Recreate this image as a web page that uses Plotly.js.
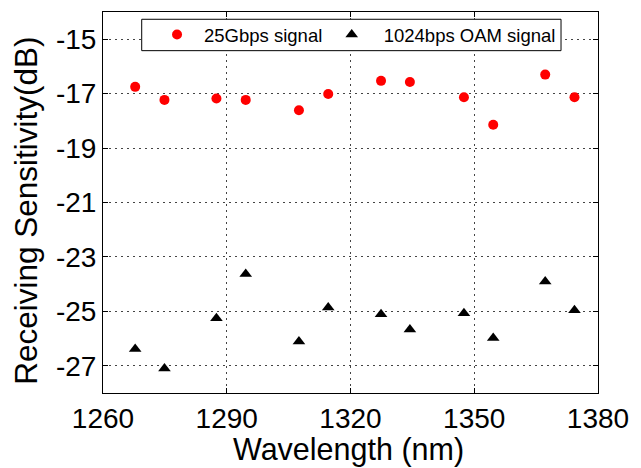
<!DOCTYPE html>
<html>
<head>
<meta charset="utf-8">
<script src="https://cdn.plot.ly/plotly-3.0.1.min.js"></script>
<style>html,body{margin:0;padding:0;background:#fff;}#chart{width:641px;height:468px;}</style>
</head>
<body>
<div id="chart"></div>
<script>
var wavelength = [1267.8, 1274.9, 1287.5, 1294.6, 1307.5, 1314.6, 1327.4, 1334.4, 1347.5, 1354.6, 1367.2, 1374.3];
var sens25G = [-16.75, -17.23, -17.18, -17.23, -17.61, -17.01, -16.53, -16.57, -17.13, -18.14, -16.30, -17.13];
var sensOAM = [-26.38, -27.10, -25.25, -23.63, -26.11, -24.86, -25.11, -25.67, -25.07, -25.98, -23.90, -24.96];
var xTicks = [1260, 1290, 1320, 1350, 1380];
var yTicks = [-27, -25, -23, -21, -19, -17, -15];
var seriesNames = ['25Gbps signal', '1024bps OAM signal'];
var xTitle = 'Wavelength (nm)';
var yTitle = 'Receiving Sensitivity(dB)';

var font = 'Liberation Sans, Arial, sans-serif';
var traces = [
  {x: wavelength, y: sens25G, name: seriesNames[0], type: 'scatter', mode: 'markers',
   legend: 'legend', marker: {symbol: 'circle', size: 10, color: '#ff0000'}},
  {x: wavelength, y: sensOAM, name: seriesNames[1], type: 'scatter', mode: 'markers',
   legend: 'legend2', marker: {symbol: 'triangle-up', size: 11, color: '#000000'}}
];
var axisCommon = {
  showline: true, linecolor: '#000', linewidth: 1, mirror: 'ticks',
  ticks: 'inside', ticklen: 5, tickcolor: '#000',
  showgrid: true, gridcolor: '#444', griddash: '2px,4px', gridwidth: 1,
  zeroline: false, tickfont: {family: font, size: 28, color: '#000'}
};
var legendCommon = {
  orientation: 'h', y: 0.9898, xanchor: 'left', yanchor: 'top',
  bgcolor: 'rgba(0,0,0,0)', borderwidth: 0,
  font: {family: font, size: 18.5, color: '#000'}
};
var layout = {
  width: 641, height: 468,
  margin: {l: 103, r: 43, t: 12, b: 75},
  paper_bgcolor: '#fff', plot_bgcolor: '#fff',
  showlegend: true,
  xaxis: Object.assign({}, axisCommon, {
    range: [1260, 1380], tickvals: xTicks, ticktext: xTicks.map(String)
  }),
  yaxis: Object.assign({}, axisCommon, {
    range: [-28, -14], tickvals: yTicks, ticktext: yTicks.map(String)
  }),
  annotations: [
    {text: xTitle, xref: 'paper', yref: 'paper', x: 0.496, y: -0.147,
     xanchor: 'center', yanchor: 'middle', showarrow: false,
     font: {family: font, size: 30.5, color: '#000'}},
    {text: yTitle, xref: 'paper', yref: 'paper', x: -0.1556, y: 0.478,
     xanchor: 'center', yanchor: 'middle', showarrow: false, textangle: -90,
     font: {family: font, size: 31.5, color: '#000'}}
  ],
  legend: Object.assign({}, legendCommon, {x: 0.095, itemwidth: 44}),
  legend2: Object.assign({}, legendCommon, {x: 0.4378, itemwidth: 54}),
  shapes: [{
    type: 'rect', xref: 'paper', yref: 'paper', layer: 'above',
    x0: 0.0782, x1: 0.9253, y0: 0.9809, y1: 0.8985,
    line: {color: '#000', width: 1}, fillcolor: '#fff'
  }]
};
Plotly.newPlot('chart', traces, layout, {displayModeBar: false, staticPlot: true});
</script>
</body>
</html>
